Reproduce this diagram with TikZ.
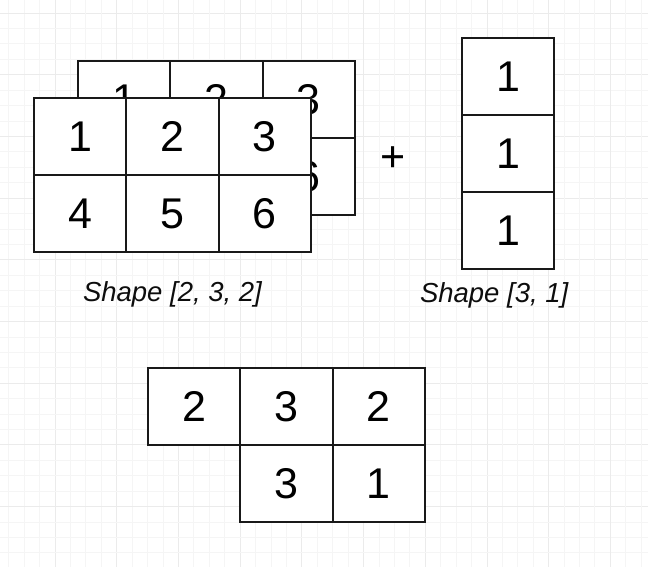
\documentclass[tikz,border=0pt]{standalone}
\usepackage{fontspec}
\setmainfont{Liberation Sans}
\usetikzlibrary{positioning}

\begin{document}
\begin{tikzpicture}[
        x=1pt, y=1pt,
        cell/.style  = {draw=black!90, line width=2.2pt, fill=white, outer sep=0pt, inner sep=0pt,
                        minimum width=92.3pt, minimum height=77pt,
                        font=\fontsize{43}{43}\selectfont},
        lbl/.style   = {font=\fontsize{27.5}{30}\selectfont\itshape, text=black!95},
        minor/.style = {black!4, line width=0.8pt},
        major/.style = {black!8, line width=0.8pt},
        node distance = 0pt
    ]
        \useasboundingbox (0,0) rectangle (648,567);
        % background grid
        \begin{scope}
            \clip (0,0) rectangle (648,567);
            \foreach \i in {0,...,43} {
                \pgfmathtruncatemacro{\m}{mod(\i,4)}
                \ifnum\m=0 \tikzset{gl/.style={major}} \else \tikzset{gl/.style={minor}} \fi
                \draw[gl] ({-6.7+15.425*\i},0) -- ({-6.7+15.425*\i},567);
                \draw[gl] (0,{567+48.7-15.425*\i}) -- (648,{567+48.7-15.425*\i});
            }
        \end{scope}
        % back matrix
        \node[cell, anchor=north west] (b1) at (78,506) {1};
        \node[cell, right=of b1] (b2) {2};
        \node[cell, right=of b2] (b3) {3};
        \node[cell, below=of b1] (b4) {4};
        \node[cell, right=of b4] (b5) {5};
        \node[cell, right=of b5] (b6) {6};
        % front matrix
        \node[cell, anchor=north west] (f1) at (34,469) {1};
        \node[cell, right=of f1] (f2) {2};
        \node[cell, right=of f2] (f3) {3};
        \node[cell, below=of f1] (f4) {4};
        \node[cell, right=of f4] (f5) {5};
        \node[cell, right=of f5] (f6) {6};
        \node[lbl] (shapeA) at ([yshift=-42pt]f5.south) {Shape [2, 3, 2]};
        % plus sign
        \node[font=\fontsize{43}{43}\selectfont] (plus) at (393,408) {+};
        % column vector
        \node[cell, anchor=north west] (r1) at (462,529) {1};
        \node[cell, below=of r1] (r2) {1};
        \node[cell, below=of r2] (r3) {1};
        \node[lbl] (shapeB) at ([xshift=-14pt, yshift=-26pt]r3.south) {Shape [3, 1]};
        % result
        \node[cell, anchor=north west] (o1) at (148,199) {2};
        \node[cell, right=of o1] (o2) {3};
        \node[cell, right=of o2] (o3) {2};
        \node[cell, below=of o2] (o4) {3};
        \node[cell, right=of o4] (o5) {1};
    \end{tikzpicture}
\end{document}
